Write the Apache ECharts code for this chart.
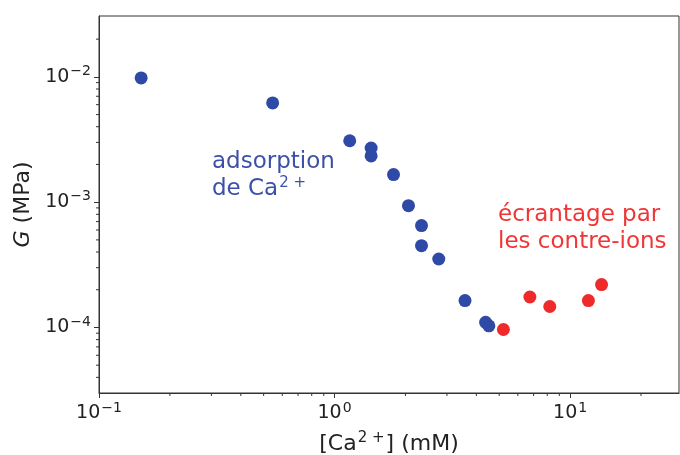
<!DOCTYPE html>
<html>
<head>
<meta charset="utf-8">
<script src="https://cdn.jsdelivr.net/npm/echarts@6/dist/echarts.min.js"></script>
<style>
html,body{margin:0;padding:0;background:#fff;}
#c{width:680px;height:455px;}
</style>
</head>
<body>
<div id="c"></div>
<script>
// Data
const adsorptionX = [0.151, 0.546, 1.16, 1.43, 1.43, 1.78, 2.06, 2.34, 2.34, 2.77, 3.58, 4.38, 4.52];
const adsorptionG = [0.0098, 0.0062, 0.00309, 0.0027, 0.00234, 0.00166, 0.000937, 0.00065, 0.00045, 0.000352, 0.000164, 0.000110, 0.000103];
const screeningX = [5.21, 6.75, 8.2, 11.96, 13.6];
const screeningG = [0.0000964, 0.000175, 0.000147, 0.000164, 0.00022];
const xMinorTicks = [0.2, 0.3, 0.4, 0.5, 0.6, 0.7, 0.8, 0.9, 2, 3, 4, 5, 6, 7, 8, 9, 20];
const yMinorTicks = [0.00004, 0.00005, 0.00006, 0.00007, 0.00008, 0.00009,
  0.0002, 0.0003, 0.0004, 0.0005, 0.0006, 0.0007, 0.0008, 0.0009,
  0.002, 0.003, 0.004, 0.005, 0.006, 0.007, 0.008, 0.009, 0.02];
const xRange = [0.1, 29];
const yRange = [0.00003, 0.0306];

const FONT = 'DejaVu Sans';
const AX = '#333';
const BLUE = '#2f4aa6';
const RED = '#ef2a2a';

function powLabel(v) {
  const l = Math.log10(v);
  const e = Math.round(l);
  if (Math.abs(l - e) > 1e-6) return '';
  return '{b|10}{s|' + (e < 0 ? '\u2212' : '') + Math.abs(e) + '}';
}
const labelRich = {
  b: {fontFamily: FONT, fontSize: 19, color: '#222'},
  s: {fontFamily: FONT, fontSize: 14, color: '#222', padding: [0, 0, 11, 1]}
};

const chart = echarts.init(document.getElementById('c'), null, {renderer: 'canvas'});
chart.setOption({
  animation: false,
  backgroundColor: '#fff',
  grid: {left: 99, right: 1, top: 16, bottom: 62, show: true, borderColor: AX, borderWidth: 1,
    backgroundColor: 'transparent', containLabel: false, outerBoundsMode: 'none'},
  xAxis: {
    type: 'log', logBase: 10, min: xRange[0], max: xRange[1],
    name: '[Ca{sup|2 +}] (mM)', nameLocation: 'middle', nameGap: 38,
    nameTextStyle: {fontFamily: FONT, fontSize: 22, color: '#222',
      rich: {sup: {fontFamily: FONT, fontSize: 15, color: '#222', padding: [0, 1, 12, 1]}}},
    axisLine: {show: true, lineStyle: {color: AX, width: 1}},
    axisTick: {show: true, inside: false, length: 5, lineStyle: {color: AX}},
    axisLabel: {formatter: powLabel, rich: labelRich, margin: 8, showMaxLabel: false},
    splitLine: {show: false}
  },
  yAxis: {
    type: 'log', logBase: 10, min: yRange[0], max: yRange[1],
    name: '{i|G} (MPa)', nameLocation: 'middle', nameGap: 62, nameRotate: 90,
    nameTextStyle: {fontFamily: FONT, fontSize: 22, color: '#222',
      rich: {i: {fontFamily: FONT, fontSize: 22, fontStyle: 'italic', color: '#222'}}},
    axisLine: {show: true, lineStyle: {color: AX, width: 1}},
    axisTick: {show: true, inside: false, length: 5, lineStyle: {color: AX}},
    axisLabel: {formatter: powLabel, rich: labelRich, margin: 8, showMaxLabel: false, showMinLabel: false},
    splitLine: {show: false}
  },
  graphic: [
    {type: 'text', left: 212, top: 149, silent: true,
      style: {text: 'adsorption\nde Ca{sup|2 +}', fontFamily: FONT, fontSize: 23, lineHeight: 27, fill: '#3d50a8',
        rich: {sup: {fontFamily: FONT, fontSize: 15, fill: '#3d50a8', padding: [0, 0, 12, 1]}}}},
    {type: 'text', left: 498, top: 202, silent: true,
      style: {text: 'écrantage par\nles contre-ions', fontFamily: FONT, fontSize: 23, lineHeight: 27, fill: '#f03535'}}
  ],
  series: [
    {type: 'scatter', data: adsorptionX.map((x, i) => [x, adsorptionG[i]]), symbolSize: 13,
      itemStyle: {color: BLUE, opacity: 1}},
    {type: 'scatter', data: screeningX.map((x, i) => [x, screeningG[i]]), symbolSize: 13,
      itemStyle: {color: RED, opacity: 1}},
    {type: 'custom', silent: true, clip: false, data: xMinorTicks.map(v => [v, yRange[0]]),
      renderItem: function (params, api) {
        const p = api.coord([api.value(0), api.value(1)]);
        return {type: 'line', shape: {x1: p[0], y1: p[1], x2: p[0], y2: p[1] + 3}, style: {stroke: AX, lineWidth: 1}};
      }},
    {type: 'custom', silent: true, clip: false, data: yMinorTicks.map(v => [xRange[0], v]),
      renderItem: function (params, api) {
        const p = api.coord([api.value(0), api.value(1)]);
        return {type: 'line', shape: {x1: p[0], y1: p[1], x2: p[0] - 3, y2: p[1]}, style: {stroke: AX, lineWidth: 1}};
      }}
  ]
});
</script>
</body>
</html>
